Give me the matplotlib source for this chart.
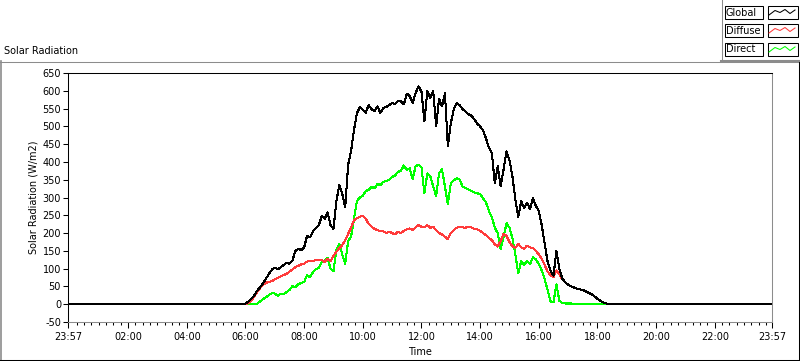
import matplotlib
matplotlib.use("Agg")
import matplotlib.pyplot as plt
import numpy as np
from matplotlib.patches import Rectangle

plt.rcParams['font.family'] = ['DejaVu Sans']
plt.rcParams['axes.unicode_minus'] = False

# daylight samples, every 6 minutes from 05:48 to 18:30 (hours)
t_start = 5.8
t_step = 0.1

global_rad = [
    0, 0,
    2, 7, 15, 25, 38, 48, 59, 72, 85, 97,
    103, 98, 104, 110, 116, 114, 122, 150, 156, 152,
    160, 192, 188, 205, 214, 222, 248, 240, 258, 222,
    212, 290, 336, 310, 272, 392, 430, 490, 537, 554,
    546, 538, 560, 548, 543, 556, 538, 552, 554, 560,
    566, 563, 572, 570, 562, 592, 585, 566, 594, 612,
    598, 514, 600, 580, 600, 500, 578, 556, 593, 444,
    508, 548, 565, 560, 548, 542, 534, 530, 520, 508,
    500, 488, 466, 440, 425, 340, 388, 331, 379, 430,
    405, 360, 295, 245, 290, 270, 285, 268, 298, 276,
    262, 222, 170, 120, 95, 80, 150, 100, 72, 62,
    55, 50, 47, 44, 42, 40, 36, 32, 28, 22,
    15, 10, 5, 2, 0, 0,
]
diffuse_rad = [
    0, 0,
    0, 3, 10, 22, 35, 45, 55, 60, 63, 65,
    70, 74, 78, 82, 85, 92, 98, 104, 108, 112,
    114, 120, 121, 122, 124, 123, 125, 118, 128, 122,
    135, 148, 158, 166, 180, 198, 215, 236, 242, 246,
    248, 240, 226, 218, 212, 208, 206, 205, 200, 204,
    200, 196, 204, 200, 206, 210, 213, 209, 216, 222,
    218, 216, 222, 215, 218, 208, 200, 196, 190, 183,
    200, 208, 215, 218, 216, 215, 218, 216, 212, 210,
    206, 200, 194, 186, 180, 168, 162, 178, 198, 192,
    175, 163, 158, 170, 160, 156, 165, 160, 158, 150,
    140, 128, 110, 92, 82, 76, 95, 85, 70, 62,
    55, 50, 47, 44, 42, 40, 36, 32, 28, 22,
    15, 10, 5, 2, 0, 0,
]
direct_rad = [
    0, 0,
    0, 0, 0, 0, 2, 8, 14, 20, 26, 31,
    30, 24, 30, 28, 34, 40, 51, 48, 56, 60,
    62, 82, 76, 90, 98, 102, 118, 122, 130, 100,
    93, 152, 170, 140, 113, 178, 190, 240, 290, 300,
    305, 318, 322, 330, 326, 338, 335, 344, 346, 350,
    358, 362, 372, 375, 390, 378, 382, 351, 388, 392,
    385, 312, 368, 360, 331, 303, 368, 379, 331, 281,
    340, 348, 354, 350, 331, 326, 323, 318, 314, 312,
    309, 298, 286, 262, 245, 215, 200, 155, 190, 228,
    215, 186, 140, 87, 121, 110, 122, 112, 132, 126,
    113, 95, 70, 40, 8, 5, 56, 10, 3, 2,
    2, 2, 1, 1, 1, 1, 1, 1, 1, 1,
    1, 0, 0, 0, 0, 0,
]

x_min, x_max = -0.05, 23.95   # 23:57 .. 23:57
tick_pos = [x_min, 2, 4, 6, 8, 10, 12, 14, 16, 18, 20, 22, x_max]
tick_lab = ['23:57', '02:00', '04:00', '06:00', '08:00', '10:00', '12:00',
            '14:00', '16:00', '18:00', '20:00', '22:00', '23:57']
series = [('Direct', direct_rad, '#00ff00'),
          ('Diffuse', diffuse_rad, '#ff3b3b'),
          ('Global', global_rad, '#000000')]

times = t_start + t_step * np.arange(len(global_rad))
times = np.concatenate([[x_min], times, [x_max]])

W, H = 800, 361
fig = plt.figure(figsize=(W / 100, H / 100), dpi=100)
ax = fig.add_axes([68 / W, (H - 322) / H, 704 / W, 249 / H])

for name, vals, col in series:
    ax.plot(times, [0] + vals + [0], color=col, lw=0.75, antialiased=False)

ax.set_xlim(x_min, x_max)
ax.set_ylim(-50, 650)
ax.set_yticks(np.arange(-50, 651, 50))
ax.set_xticks(tick_pos)
ax.set_xticklabels(tick_lab)
minors = [m for m in np.arange(0.25, 23.9, 0.25) if abs(m - round(m / 2) * 2) > 0.01]
ax.set_xticks(minors, minor=True)

ax.tick_params(axis='y', length=3.5, width=0.75, labelsize=7, pad=1.5)
ax.tick_params(axis='x', which='major', length=4, width=0.75, labelsize=7, pad=3)
ax.tick_params(axis='x', which='minor', length=2.5, width=0.75)
for s in ['left', 'top']:
    ax.spines[s].set_color('black')
    ax.spines[s].set_linewidth(0.75)
for s in ['right', 'bottom']:
    ax.spines[s].set_color('#8c8c8c')
    ax.spines[s].set_linewidth(0.75)

fig.text(4 / W, 1 - 51 / H, 'Solar Radiation', fontsize=7, ha='left', va='center')
fig.text(33 / W, 1 - 197 / H, 'Solar Radiation (W/m2)', fontsize=7,
         rotation=90, ha='center', va='center')
fig.text(420 / W, 1 - 352 / H, 'Time', fontsize=7, ha='center', va='center')

# frame + legend drawn in pixel coords
ov = fig.add_axes([0, 0, 1, 1])
ov.set_xlim(0, W)
ov.set_ylim(H, 0)
ov.axis('off')
ov.patch.set_alpha(0)
gray = '#8c8c8c'
ov.plot([0.5, 0.5], [61, 360], color=gray, lw=1.2)
ov.plot([0, W], [61.5, 61.5], color=gray, lw=0.75)
ov.plot([798.5, 798.5], [61, 360], color='black', lw=0.75)
ov.plot([0, 799], [359.5, 359.5], color='black', lw=0.75)
ov.plot([721.5, 721.5], [0, 61], color=gray, lw=0.75)
ov.plot([721, W], [60.5, 60.5], color=gray, lw=1.5)

zig_dx = [0, 6, 11, 16, 21, 26]
zig_dy = [10, 5.5, 7.5, 4.5, 8.5, 5]
rows = [('Global', '#000000', 5), ('Diffuse', '#ff3b3b', 23), ('Direct', '#00ff00', 42)]
for name, col, y0 in rows:
    ov.add_patch(Rectangle((724.5, y0 + 0.5), 38, 13, fill=False, ec='black', lw=0.75))
    ov.add_patch(Rectangle((767.5, y0 + 0.5), 30, 13, fill=False, ec='black', lw=0.75))
    ov.text(726, y0 + 7.5, name, fontsize=7, ha='left', va='center')
    ov.plot([769 + d for d in zig_dx], [y0 + d for d in zig_dy], color=col, lw=0.75)

fig.savefig('out.png', dpi=100)
